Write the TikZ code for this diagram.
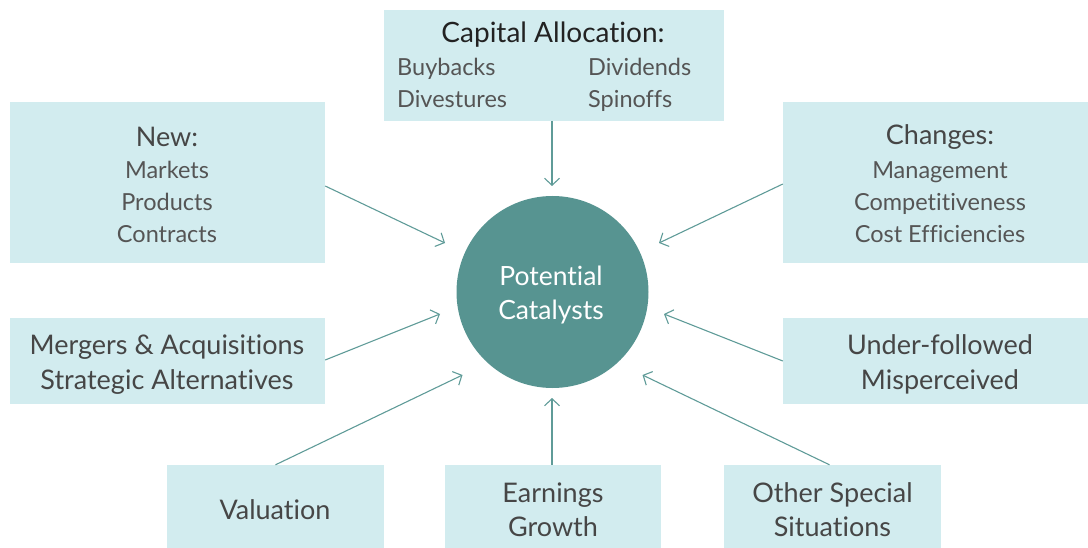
\documentclass[tikz,border=0pt]{standalone}
\usepackage{fontspec}
\setmainfont{Lato}[Ligatures=NoCommon]
\usetikzlibrary{arrows.meta}
\definecolor{boxfill}{HTML}{D2ECEF}
\definecolor{circfill}{HTML}{579491}
\definecolor{arrc}{HTML}{5F9B98}
\definecolor{txt}{HTML}{464646}
\definecolor{subt}{HTML}{555555}
\definecolor{ttl}{HTML}{222222}
\begin{document}
\begin{tikzpicture}[x=1pt,y=-1pt,
  box/.style={fill=boxfill, draw=none, inner sep=0pt},
  head/.style={text=txt, font=\fontsize{27}{34}\selectfont, align=center, inner sep=0pt},
  sub/.style={text=subt, font=\fontsize{23.5}{32}\selectfont, align=center, inner sep=0pt},
  subl/.style={text=subt, font=\fontsize{23.5}{32}\selectfont, align=left, inner sep=0pt, anchor=west},
  arr/.style={draw=arrc, line width=1.1pt, -{Straight Barb[length=7pt,width=15pt]}}]
\useasboundingbox (0,0) rectangle (1088,548);
% boxes
\node[box, minimum width=340pt, minimum height=110.5pt] (cap) at (554,65.5) {};
\node[box, minimum width=315pt, minimum height=161pt] (new) at (167.5,182.5) {};
\node[box, minimum width=305pt, minimum height=161pt] (chg) at (935.5,182.5) {};
\node[box, minimum width=315pt, minimum height=86pt] (mer) at (167.5,361) {};
\node[box, minimum width=305pt, minimum height=86pt] (und) at (935.5,361) {};
\node[box, minimum width=217pt, minimum height=83pt] (val) at (275.5,506.5) {};
\node[box, minimum width=216pt, minimum height=83pt] (earn) at (553,506.5) {};
\node[box, minimum width=217pt, minimum height=83pt] (oth) at (832.5,506.5) {};
% circle
\node[circle, fill=circfill, minimum size=192pt, inner sep=0pt] (circ) at (552.5,292) {};
\node[text=white, font=\fontsize{26.5}{34}\selectfont, align=center, inner sep=0pt] (circt) at (551,295) {Potential\\Catalysts};
% texts
\node[head, text=ttl, font=\fontsize{28}{34}\selectfont] (capt) at (553,35) {Capital Allocation:};
\node[subl] (capl) at (397,83) {Buybacks\\Divestures};
\node[subl] (capr) at (588,85) {Dividends\\Spinoffs};
\node[head] (newt) at (167,137) {New:};
\node[sub] (news) at (167,202) {Markets\\Products\\Contracts};
\node[head] (chgt) at (940,137) {Changes:};
\node[sub] (chgs) at (940,202) {Management\\Competitiveness\\Cost Efficiencies};
\node[head, font=\fontsize{27}{35}\selectfont] (mert) at (167,365) {Mergers \& Acquisitions\\Strategic Alternatives};
\node[head, font=\fontsize{27}{35}\selectfont] (undt) at (940,364.5) {Under-followed\\Misperceived};
\node[head] (valt) at (275,509.5) {Valuation};
\node[head] (earnt) at (553,510) {Earnings\\Growth};
\node[head] (otht) at (832.5,510) {Other Special\\Situations};
% arrow tips
\coordinate (tcap) at (552,186);
\coordinate (tnew) at (445,243);
\coordinate (tchg) at (659,243);
\coordinate (tmer) at (440,314);
\coordinate (tund) at (664,314);
\coordinate (tval) at (462.5,375);
\coordinate (tearn) at (552,398);
\coordinate (toth) at (642.5,375);
% arrows
\draw[arr] ([xshift=-2pt]cap.south) -- (tcap);
\draw[arr] ([yshift=-3.5pt]new.east) -- (tnew);
\draw[arr] ([yshift=-1.5pt]chg.west) -- (tchg);
\draw[arr] ([yshift=1pt]mer.east) -- (tmer);
\draw[arr] (und.west) -- (tund);
\draw[arr] (val.north) -- (tval);
\draw[arr] ([xshift=-1pt]earn.north) -- (tearn);
\draw[arr] ([xshift=-3pt]oth.north) -- (toth);
\end{tikzpicture}
\end{document}
